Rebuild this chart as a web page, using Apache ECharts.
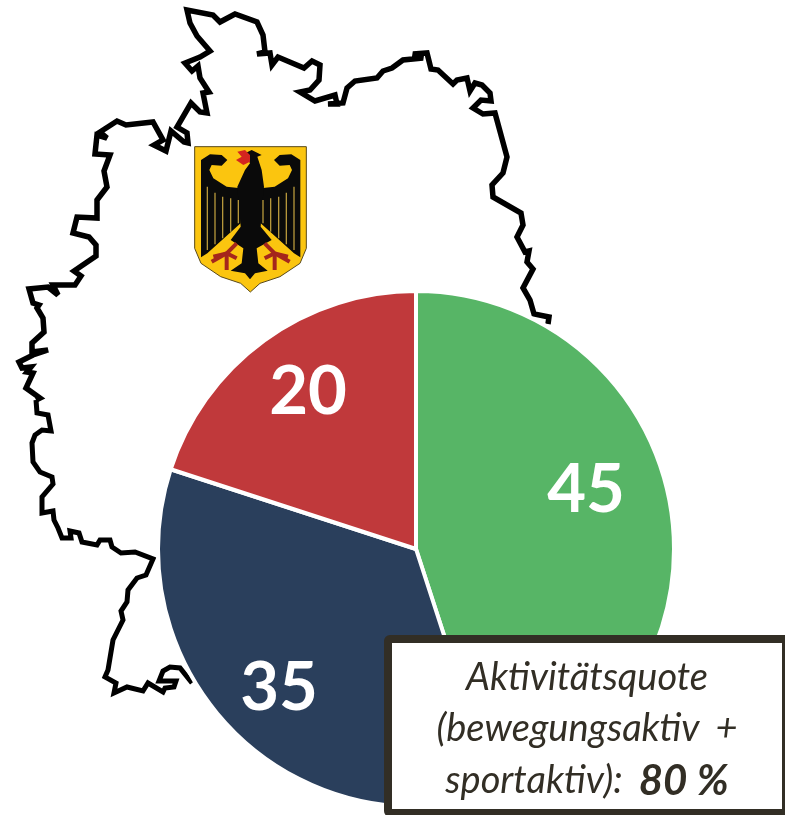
<!DOCTYPE html>
<html><head><meta charset="utf-8">
<style>html,body{margin:0;padding:0;background:#fff}#c{width:785px;height:815px}</style>
<script src="https://cdn.jsdelivr.net/npm/echarts@6/dist/echarts.min.js"></script>
</head><body><div id="c"></div>
<script>
const categories = ['sportaktiv', 'bewegungsaktiv', 'inaktiv'];
const seriesValues = [45, 35, 20];
const sliceColors = ['#57b566', '#2a3f5c', '#c0393b'];
const boxLine1 = 'Aktivitätsquote';
const boxLine2a = '(bewegungsaktiv';
const boxLine2b = '+';
const boxLine3a = 'sportaktiv):';
const boxLine3b = '80 %';

// Decorative outline of Germany (picture coordinates)
const outlineLower = [[192,683],[180,668],[170,667],[163,671],[159,681],[176,681],[174,687],[165,688],[163,692],[148,683],[143,691],[127,687],[114,693],[116,683],[105,677],[108,670],[113,640],[123,620],[121,611],[127,602],[128,590],[137,578],[146,575],[153,559],[135,552],[121,553],[112,547],[110,540],[100,540],[97,545],[82,542],[79,533],[70,531],[71,538],[62,538],[58,528],[54,520],[53,511],[42,513],[42,497],[53,484],[52,477],[40,472],[33,462],[32,443],[35,435],[42,430],[51,431],[48,415],[37,413],[36,400]];
const outlineUpper = [[36,400],[40,398],[26,388],[33,373],[27,372],[31,367],[22,368],[19,362],[33,355],[48,350],[32,352],[32,343],[44,332],[43,318],[37,308],[39,305],[33,303],[29,289],[48,287],[58,295],[53,285],[75,285],[81,276],[74,271],[96,256],[96,245],[89,237],[73,233],[77,217],[97,218],[97,200],[107,187],[104,171],[110,155],[95,154],[97,135],[107,138],[100,132],[117,121],[126,125],[153,122],[163,140],[154,145],[166,151],[171,131],[184,142],[188,143],[187,133],[177,127],[191,103],[200,112],[207,113],[203,93],[209,92],[200,78],[198,66],[192,71],[185,63],[200,57],[210,51],[197,36],[190,23],[187,10],[213,15],[220,22],[235,14],[257,22],[263,35],[265,52],[257,54],[270,53],[272,65],[278,57],[304,68],[312,61],[320,65],[319,80],[310,90],[300,92],[315,101],[335,95],[337,104],[328,104],[343,103],[347,88],[355,81],[377,78],[383,71],[392,68],[403,60],[423,58],[413,54],[427,53],[431,69],[438,70],[453,84],[457,80],[467,78],[470,91],[475,83],[482,85],[490,93],[491,101],[481,100],[473,108],[483,114],[495,113],[507,157],[503,173],[492,185],[493,197],[521,213],[523,225],[517,237],[525,252],[529,251],[527,262],[533,269],[523,288],[530,300],[534,314],[549,317],[548,324]];

// Decorative coat of arms, traced in 3x crop units
const Z = p => p.map(q => [q[0] / 3, q[1] / 3]);
const MX = 1504;
const mirror = p => p.map(q => [MX - q[0], q[1]]);
const shield = [[584,440],[919,440],[919,745],[900,790],[840,830],[780,850],[751,876],[722,850],[662,830],[603,790],[584,745]];
const leftWing = [[603,490],[603,772],[622,760],[722,670],[722,565],[680,560],[640,535],[628,510],[635,495],[665,497],[682,480],[665,465],[630,463],[603,480]];
const eagleBody = [[735,460],[755,450],[785,465],[772,470],[785,510],[792,560],[787,610],[782,680],[815,720],[770,745],[775,790],[803,812],[765,820],[750,838],[735,820],[692,812],[725,790],[730,745],[692,720],[722,680],[716,610],[712,560],[735,510],[750,490]];
const beak = [[712,455],[735,450],[750,465],[750,485],[730,495],[708,480],[725,470]];
const stripes = [[[622,560],[622,750]],[[645,578],[645,733]],[[668,590],[668,715]],[[692,595],[692,695]],[[715,600],[715,670]]];
const claws = [[[710,730],[680,760],[640,770]],[[680,760],[635,785]],[[680,760],[680,810]],[[680,760],[710,775]]];

const labelPos = [[586,490],[279,688],[308,392]];

const poly = (pts, fill, z) => ({type:'polygon', z, shape:{points:Z(pts)}, style:{fill}});
const pline = (pts, stroke, lineWidth, z) => ({type:'polyline', z, shape:{points:pts}, style:{stroke, lineWidth, fill:null, lineJoin:'miter', miterLimit:4}});

const arms = [
  {type:'polygon', z:1, shape:{points:Z(shield)}, style:{fill:'#fbc50f', stroke:'#5a4a1a', lineWidth:1}},
  poly(leftWing,'#0a0a0a',2), poly(mirror(leftWing),'#0a0a0a',2),
  poly(eagleBody,'#0a0a0a',2), poly(beak,'#d4261f',3)
];
stripes.forEach(s => { arms.push(pline(Z(s),'#b99a3c',1.3,3)); arms.push(pline(Z(mirror(s)),'#b99a3c',1.3,3)); });
claws.forEach(s => { arms.push(pline(Z(s),'#a5261c',4,3)); arms.push(pline(Z(mirror(s)),'#a5261c',4,3)); });

const ital = {fill:'#322e25', fontFamily:'Lato', fontStyle:'italic', fontSize:38};
const textCommon = {...ital, textAlign:'center', textVerticalAlign:'middle'};

const chart = echarts.init(document.getElementById('c'), null, {renderer:'canvas'});
chart.setOption({
  animation:false,
  backgroundColor:'#fff',
  graphic:{elements:[
    pline(outlineLower,'#000',5,0),
    pline(outlineUpper,'#000',5.5,0),
    ...arms,
    {type:'rect', z:20, shape:{x:388,y:639,width:398,height:174,r:2}, style:{fill:'#fff',stroke:'#322e25',lineWidth:8}},
    {type:'text', z:21, x:587, y:678, style:{...textCommon, text:boxLine1}},
    {type:'text', z:21, x:587, y:729, style:{...textCommon, text:'{a|'+boxLine2a+'}{p|'+boxLine2b+'}', rich:{
      a:{...ital}, p:{...ital, padding:[0,0,0,16]}
    }}},
    {type:'text', z:21, x:587, y:781, style:{...textCommon, text:'{a|'+boxLine3a+'}{b|'+boxLine3b+'}', rich:{
      a:{...ital},
      b:{...ital, fontWeight:'bold', fontSize:42, padding:[0,0,0,16]}
    }}}
  ]},
  series:[{
    type:'pie', z:5, center:[416,549], radius:[0,258], startAngle:90, clockwise:true,
    itemStyle:{borderColor:'#fff',borderWidth:4},
    label:{show:true,position:'inside',formatter:'{c}',color:'#fff',fontFamily:'Lato',fontWeight:'bold',fontSize:67},
    labelLine:{show:false},
    labelLayout:p => ({x:labelPos[p.dataIndex][0], y:labelPos[p.dataIndex][1], align:'center', verticalAlign:'middle'}),
    data:categories.map((n,i)=>({name:n,value:seriesValues[i],itemStyle:{color:sliceColors[i]}}))
  }]
});
</script></body></html>
